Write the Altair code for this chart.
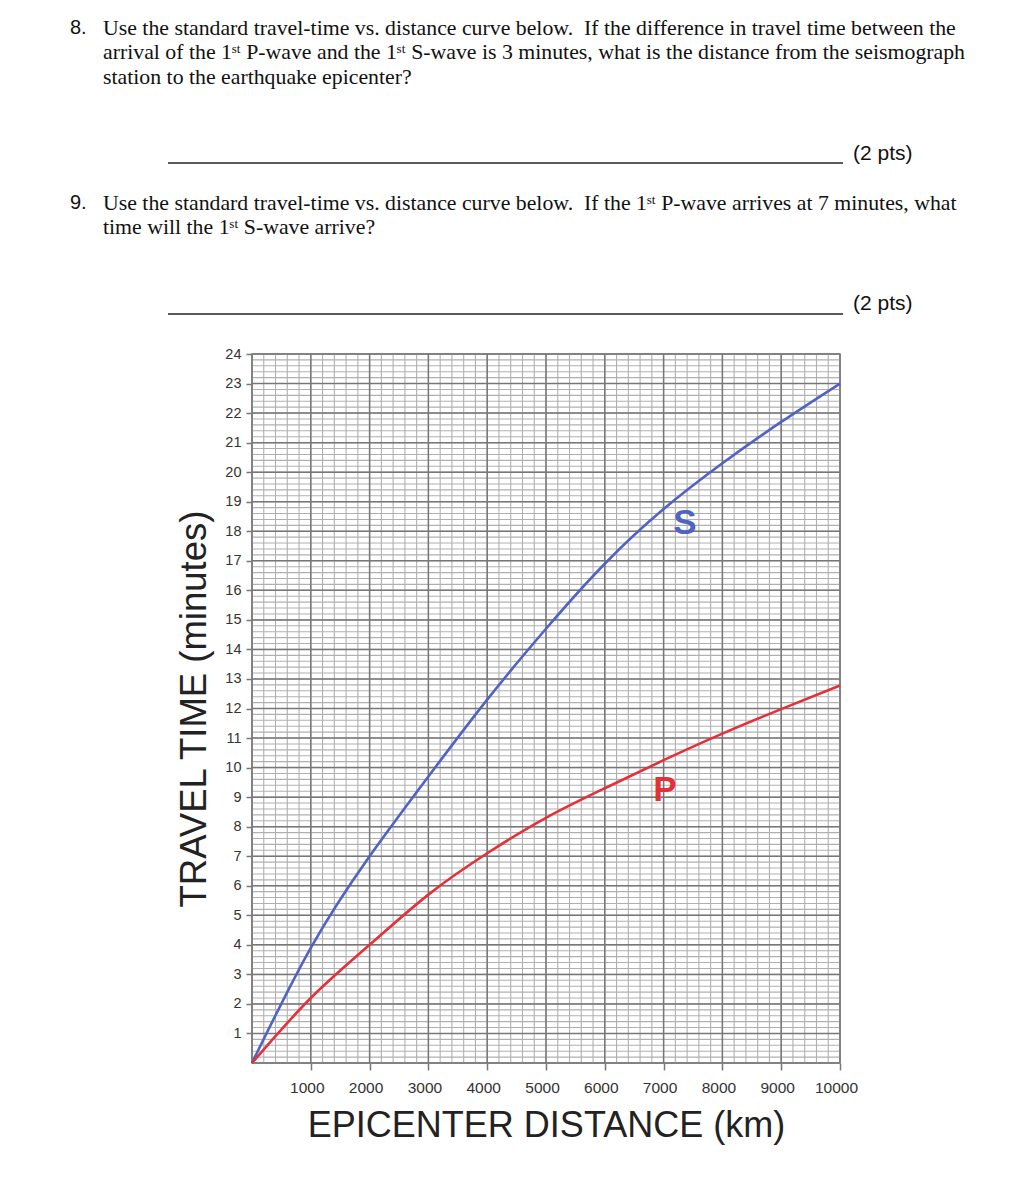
import altair as alt
import pandas as pd

# ---- data ----
distance_km = [0, 1000, 2000, 3000, 4000, 5000, 6000, 7000, 8000, 9000, 10000]
s_wave_min = [0, 3.9, 7.0, 9.7, 12.3, 14.7, 16.9, 18.75, 20.3, 21.7, 23.0]
p_wave_min = [0, 2.2, 4.0, 5.7, 7.1, 8.3, 9.3, 10.25, 11.15, 11.98, 12.78]
x_tick_values = [1000, 2000, 3000, 4000, 5000, 6000, 7000, 8000, 9000, 10000]
y_tick_values = list(range(1, 25))
wave_names = ["S", "P"]
wave_label_x = [7364, 7024]
wave_label_y = [18.28, 9.24]

q8_number = "8."
q8_lines = [
    "Use the standard travel-time vs. distance curve below. \u00a0If the difference in travel time between the",
    "arrival of the 1\u02e2\u1d57 P-wave and the 1\u02e2\u1d57 S-wave is 3 minutes, what is the distance from the seismograph",
    "station to the earthquake epicenter?",
]
q9_number = "9."
q9_lines = [
    "Use the standard travel-time vs. distance curve below. \u00a0If the 1\u02e2\u1d57 P-wave arrives at 7 minutes, what",
    "time will the 1\u02e2\u1d57 S-wave arrive?",
]
points_text = "(2 pts)"

# ---- layout ----
W, H = 588, 709
OX, OY = 252, 354
BLUE = "#5063c2"
RED = "#e3313a"
SANS = "Liberation Sans"
SERIF = "Liberation Serif"
QSIZE = 21.8

xs = alt.Scale(domain=[0, 10000], nice=False, zero=True)
ys = alt.Scale(domain=[0, 24], nice=False, zero=True)

x_axis = alt.Axis(
    values=x_tick_values,
    format="d",
    title="EPICENTER DISTANCE (km)",
    titleFont=SANS,
    titleFontSize=36,
    titleFontWeight="normal",
    titleColor="#222222",
    titlePadding=13,
    labelFont=SANS,
    labelFontSize=15.5,
    labelColor="#333333",
    labelPadding=10,
    labelOffset=-4,
    labelFlush=False,
    labelOverlap=False,
    tickSize=7,
    tickColor="#777777",
    tickWidth=1.5,
    domain=False,
    grid=False,
)
y_axis = alt.Axis(
    values=y_tick_values,
    title="TRAVEL TIME (minutes)",
    titleFont=SANS,
    titleFontSize=36.5,
    titleFontWeight="normal",
    titleColor="#222222",
    titlePadding=11,
    labelFont=SANS,
    labelFontSize=14.5,
    labelColor="#333333",
    labelPadding=5,
    labelFlush=False,
    labelOverlap=False,
    tickSize=6,
    tickColor="#777777",
    tickWidth=1.5,
    domain=False,
    grid=False,
)

curves = pd.DataFrame(
    {
        "dist": distance_km * 2,
        "time": s_wave_min + p_wave_min,
        "wave": ["S"] * len(distance_km) + ["P"] * len(distance_km),
    }
)

minor_x = pd.DataFrame({"dist": [i * 200 for i in range(51)]})
major_x = pd.DataFrame({"dist": [i * 1000 for i in range(11)]})
minor_y = pd.DataFrame({"time": [i * 0.2 for i in range(121)]})
major_y = pd.DataFrame({"time": list(range(25))})

grid_minor_v = alt.Chart(minor_x).mark_rule(color="#b0b0b0", strokeWidth=1.1).encode(
    x=alt.X("dist:Q", scale=xs, axis=x_axis)
)
grid_minor_h = alt.Chart(minor_y).mark_rule(color="#b0b0b0", strokeWidth=1.1).encode(
    y=alt.Y("time:Q", scale=ys, axis=y_axis)
)
grid_major_v = alt.Chart(major_x).mark_rule(color="#777777", strokeWidth=1.5).encode(
    x=alt.X("dist:Q", scale=xs, axis=x_axis)
)
grid_major_h = alt.Chart(major_y).mark_rule(color="#777777", strokeWidth=1.5).encode(
    y=alt.Y("time:Q", scale=ys, axis=y_axis)
)

lines = alt.Chart(curves).mark_line(strokeWidth=2.6, interpolate="natural").encode(
    x=alt.X("dist:Q", scale=xs, axis=x_axis),
    y=alt.Y("time:Q", scale=ys, axis=y_axis),
    color=alt.Color("wave:N", scale=alt.Scale(domain=wave_names, range=[BLUE, RED]), legend=None),
    detail="wave:N",
)

labels_df = pd.DataFrame({"name": wave_names, "dist": wave_label_x, "time": wave_label_y})
wave_labels = alt.Chart(labels_df).mark_text(
    font=SANS, fontSize=35, fontWeight="bold", align="center", baseline="middle"
).encode(
    x=alt.X("dist:Q", scale=xs, axis=x_axis),
    y=alt.Y("time:Q", scale=ys, axis=y_axis),
    text="name:N",
    color=alt.Color("name:N", scale=alt.Scale(domain=wave_names, range=[BLUE, RED]), legend=None),
)


def txt(s, x, y, size, font, align="left", color="#111111"):
    return alt.Chart(pd.DataFrame({"t": [s]})).mark_text(
        font=font, fontSize=size, align=align, baseline="middle", color=color
    ).encode(x=alt.value(x - OX), y=alt.value(y - OY), text="t:N")


def underline(x1, x2, y):
    return alt.Chart(pd.DataFrame({"a": [0]})).mark_rule(color="#222222", strokeWidth=1.3).encode(
        x=alt.value(x1 - OX), x2=alt.value(x2 - OX), y=alt.value(y - OY)
    )


text_layers = [
    txt(q8_number, 70, 28, 20, SANS),
    txt(q8_lines[0], 103, 28, QSIZE, SERIF),
    txt(q8_lines[1], 103, 52, QSIZE, SERIF),
    txt(q8_lines[2], 103, 77, QSIZE, SERIF),
    underline(168, 843, 163),
    txt(points_text, 853, 154, 21, SANS),
    txt(q9_number, 70, 203, 20, SANS),
    txt(q9_lines[0], 103, 203, QSIZE, SERIF),
    txt(q9_lines[1], 103, 227, QSIZE, SERIF),
    underline(168, 843, 314),
    txt(points_text, 853, 304, 21, SANS),
]

chart = alt.layer(
    grid_minor_v, grid_minor_h, grid_major_v, grid_major_h, lines, wave_labels, *text_layers
).properties(
    width=W,
    height=H,
    padding={"left": OX, "top": OY, "right": 1015 - OX - W, "bottom": 1200 - OY - H},
    autosize=alt.AutoSizeParams(type="none"),
    background="white",
).configure_view(stroke="#777777", strokeWidth=1.5)

chart.save("out.html", embed_options={"renderer": "svg", "actions": False})
